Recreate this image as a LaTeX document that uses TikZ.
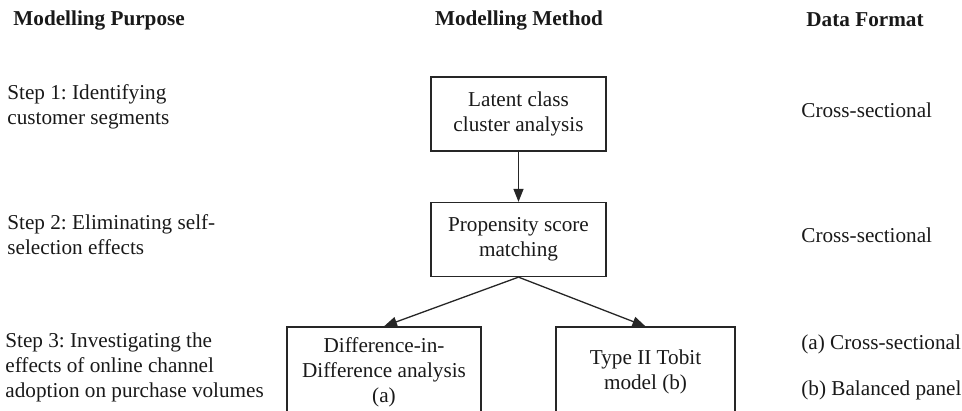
\documentclass[tikz,border=0pt]{standalone}
\usepackage{fontspec}
\setmainfont{Liberation Serif}
\usepackage{tikz}
\usetikzlibrary{arrows.meta}
\frenchspacing

\begin{document}
\begin{tikzpicture}[x=0.5pt,y=-0.5pt,
	every node/.style={font=\fontsize{10.6}{12.5}\selectfont, inner sep=0pt, text=black!90},
	head/.style={font=\fontsize{10.6}{12.5}\selectfont\bfseries},
	purpose/.style={anchor=west, align=left},
	format/.style={anchor=west},
	methodbox/.style={draw=black!85, line width=0.65pt, align=center, minimum width=87.5pt, minimum height=37pt},
	link/.style={draw=black!85, line width=0.65pt, -{Triangle[length=6.5pt,width=5pt]}}]
	\clip (0,0) rectangle (962,411);
	\useasboundingbox (0,0) rectangle (962,411);

	% column headings
	\node[head, anchor=west] (hpurpose) at (13,20) {Modelling Purpose};
	\node[head] (hmethod) at (519,20) {Modelling Method};
	\node[head] (hformat) at (865,20) {Data Format};

	% modelling purpose
	\node[purpose] (step1) at (7,107) {Step 1: Identifying\\customer segments};
	\node[purpose] (step2) at (7,235) {Step 2: Eliminating self-\\selection effects};
	\node[purpose] (step3) at (5,367) {Step 3: Investigating the\\effects of online channel\\adoption on purchase volumes};

	% modelling method
	\node[methodbox] (lca) at (518.5,114) {Latent class\\cluster analysis};
	\node[methodbox] (psm) at (518.5,239.5) {Propensity score\\matching};
	\node[methodbox, minimum width=97pt, minimum height=45pt] (did) at (384,372) {Difference-in-\\Difference analysis\\(a)};
	\node[methodbox, minimum width=89.5pt, minimum height=45pt] (tobit) at (645.5,372) {Type II Tobit\\model (b)};

	\draw[link] (lca) -- (psm);
	\draw[link] (psm.south) -- (did.north);
	\draw[link] (psm.south) -- (tobit.north);

	% data format
	\node[format] (df1) at (801,110) {Cross-sectional};
	\node[format] (df2) at (801,235) {Cross-sectional};
	\node[format] (df3a) at (801,344) {(a) Cross-sectional};
	\node[format] (df3b) at (801,390) {(b) Balanced panel};
\end{tikzpicture}
\end{document}
